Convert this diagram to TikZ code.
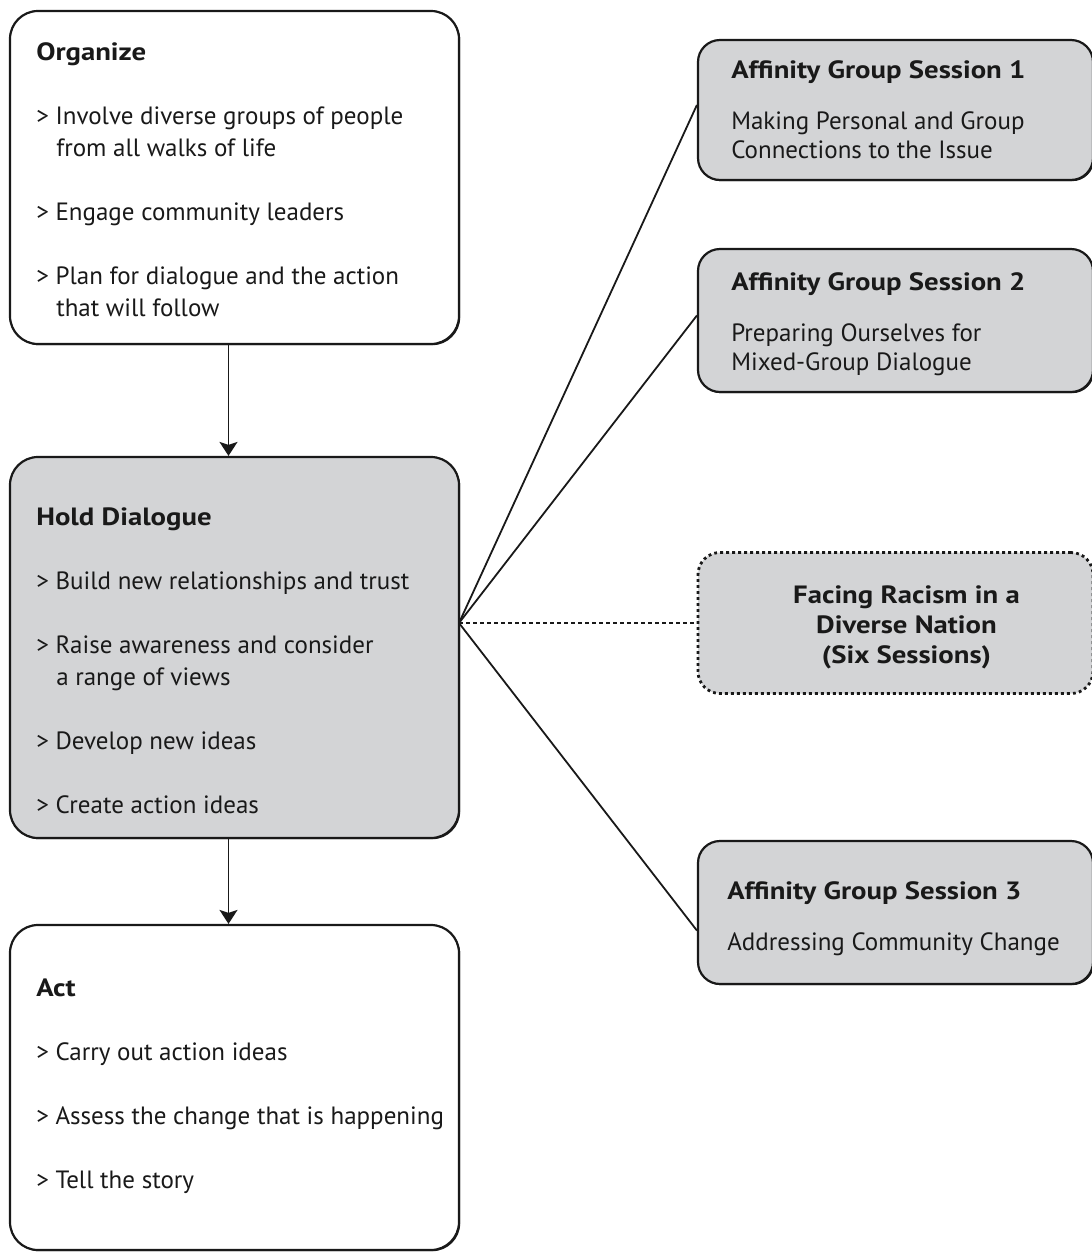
\documentclass[tikz,border=0pt]{standalone}
\usepackage{fontspec}
\setsansfont{PT Sans}
\newfontfamily\headfont{PT Sans}[FakeStretch=1.15]
\usetikzlibrary{positioning, arrows.meta, shadows}
\definecolor{sessiongray}{RGB}{211,212,214}
\newcommand{\fillcolorgray}{sessiongray}
\newcommand{\boundarycolor}{black!90}
\newcommand{\ind}{\hspace*{10pt}}
\newcommand{\head}[1]{{\headfont\bfseries #1}}

\begin{document}
\begin{tikzpicture}[x=0.5pt,y=-0.5pt,font=\sffamily\fontsize{12.5}{16}\selectfont,
	stage/.style={draw=\boundarycolor, line width=1.1pt, rounded corners=14pt, minimum width=224.5pt,
		drop shadow={shadow xshift=0.6pt,shadow yshift=-0.6pt,opacity=1,fill=\boundarycolor}},
	session/.style={draw=\boundarycolor, line width=1.1pt, rounded corners=11pt, minimum width=197.5pt,
		fill=\fillcolorgray, drop shadow={shadow xshift=0.6pt,shadow yshift=-0.6pt,opacity=1,fill=\boundarycolor}},
	guide/.style={draw=\boundarycolor, line width=1.4pt, rounded corners=11pt, minimum width=197.5pt,
		fill=\fillcolorgray, dash pattern=on 1.4pt off 1.6pt},
	txt/.style={inner sep=0, align=left, text=\boundarycolor},
	sesstxt/.style={txt, font=\sffamily\fontsize{12.5}{14.5}\selectfont},
	link/.style={draw=\boundarycolor, line width=0.9pt},
	down/.style={link, -{Stealth[length=7pt,width=9pt,inset=1.5pt]}}]
	\useasboundingbox (0,0) rectangle (1092,1254);
	%%
	\node[stage, fill=white, minimum height=166.5pt] (org) at (234.5,177.5) {};
	\node[stage, fill=\fillcolorgray, minimum height=190.5pt] (hold) at (234.5,647.5) {};
	\node[stage, fill=white, minimum height=162.5pt] (act) at (234.5,1087.5) {};
	%%
	\node[session, minimum height=70pt] (s1) at (895.5,110) {};
	\node[session, minimum height=71.5pt] (s2) at (895.5,320.5) {};
	\node[guide, minimum height=70.5pt] (fr) at (895.5,623) {};
	\node[session, minimum height=71.5pt] (s3) at (895.5,912.5) {};
	%%
	\node[txt, below right=16pt and 13.5pt of org.north west] (orgt) {\head{Organize}\\[16pt]
		> Involve diverse groups of people\\
		\ind from all walks of life\\[16pt]
		> Engage community leaders\\[16pt]
		> Plan for dialogue and the action\\
		\ind that will follow};
	\node[txt, below right=25.5pt and 13.5pt of hold.north west] (holdt) {\head{Hold Dialogue}\\[16pt]
		> Build new relationships and trust\\[16pt]
		> Raise awareness and consider\\
		\ind a range of views\\[16pt]
		> Develop new ideas\\[16pt]
		> Create action ideas};
	\node[txt, below right=27.5pt and 13.5pt of act.north west] (actt) {\head{Act}\\[16pt]
		> Carry out action ideas\\[16pt]
		> Assess the change that is happening\\[16pt]
		> Tell the story};
	%%
	\node[sesstxt, below right=10.5pt and 17pt of s1.north west] (s1t) {\head{Affinity Group Session 1}\\[11pt]
		Making Personal and Group\\
		Connections to the Issue};
	\node[sesstxt, below right=12pt and 17pt of s2.north west] (s2t) {\head{Affinity Group Session 2}\\[11pt]
		Preparing Ourselves for\\
		Mixed-Group Dialogue};
	\node[sesstxt, align=center, font=\headfont\bfseries\fontsize{12.5}{15}\selectfont] (frt) at ([xshift=5.5pt,yshift=-2pt]fr.center) {Facing Racism in a\\
		Diverse Nation\\
		(Six Sessions)};
	\node[sesstxt, below right=20.5pt and 15pt of s3.north west] (s3t) {\head{Affinity Group Session 3}\\[11pt]
		Addressing Community Change};
	%%
	\draw[down] ([xshift=-3pt]org.south) -- ([xshift=-3pt]hold.north);
	\draw[down] ([xshift=-3pt]hold.south) -- ([xshift=-3pt]act.north);
	%%
	\coordinate (hub) at (459,623);
	\foreach \s in {s1,s2} {
		\draw[link] (hub) -- ([yshift=2.5pt]\s.west);
	}
	\draw[link] (hub) -- ([yshift=-9pt]s3.west);
	\draw[link, dash pattern=on 2pt off 1.5pt] (hub) -- (fr.west);
\end{tikzpicture}
\end{document}
